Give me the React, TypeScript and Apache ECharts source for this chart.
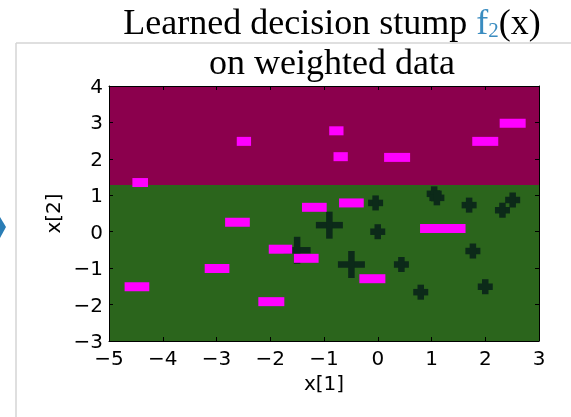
import React, { useEffect, useRef } from "react";
import * as echarts from "echarts";

// axis ranges
const X_MIN = -5;
const X_MAX = 3;
const Y_MIN = -3;
const Y_MAX = 4;

// decision stump threshold on x[2]
const stumpThreshold = 1.28;

// negative points (magenta bars), weight = relative data weight
const pinkX = [-4.42, -2.49, -1.18, -0.77, -0.69, 0.36, 2.0, 2.51, -0.49, -2.61, -1.81, -1.33, -2.99, -4.48, -1.98, 1.21, -0.1];
const pinkY = [1.35, 2.48, 0.67, 2.77, 2.06, 2.04, 2.48, 2.98, 0.79, 0.26, -0.48, -0.73, -1.01, -1.51, -1.92, 0.09, -1.29];
const pinkWeight = [0.6, 0.55, 0.95, 0.55, 0.55, 1.0, 1.0, 1.0, 0.95, 0.95, 0.9, 0.95, 0.95, 0.95, 1.0, 1.75, 1.0];

// positive points (dark crosses)
const crossX = [1.05, 1.1, -0.04, 1.7, 2.32, 2.51, -0.9, 0.0, -0.49, 0.44, 0.8, 1.77, 2.0, -1.5];
const crossY = [1.04, 0.93, 0.79, 0.73, 0.59, 0.87, 0.18, 0.0, -0.9, -0.9, -1.66, -0.53, -1.51, -0.51];
const crossWeight = [1, 1, 1, 1, 1, 1, 1.8, 1, 1.8, 1, 1, 1, 1, 1.8];

const PURPLE = "#8b004d";
const GREEN = "#2b651c";
const PINK = "#ff00ff";
const DARK = "#0c2a19";
const BLUE = "#3a8cc0";

const PINK_UNIT = 26;
const PINK_H = 9;
const CROSS_UNIT = 15;
const CROSS_T = 6.5;

const fmt = (v: number) => String(v).replace("-", "\u2212");

export default function App() {
  const ref = useRef<HTMLDivElement>(null);
  useEffect(() => {
    if (!ref.current) return;
    const chart = echarts.init(ref.current, null, { renderer: "svg" });

    const labelStyle = { fontFamily: "DejaVu Sans", fontSize: 20, color: "#000" };
    const axisCommon = (pos: string, showLabel: boolean) => ({
      type: "value",
      position: pos,
      z: 10,
      interval: 1,
      axisLine: { show: true, onZero: false, lineStyle: { color: "#000", width: 1 } },
      axisTick: { show: true, inside: true, length: 4, lineStyle: { color: "#000", width: 1 } },
      splitLine: { show: false },
      axisLabel: showLabel
        ? { show: true, ...labelStyle, formatter: fmt, showMinLabel: true, showMaxLabel: true }
        : { show: false },
    });

    const bgData = [
      [X_MIN, stumpThreshold, X_MAX, Y_MAX, 0],
      [X_MIN, Y_MIN, X_MAX, stumpThreshold, 1],
    ];
    const bgColors = [PURPLE, GREEN];

    const option: any = {
      animation: false,
      grid: { left: 109, top: 86, width: 430, height: 255, show: false },
      xAxis: [
        {
          ...axisCommon("bottom", true),
          min: X_MIN,
          max: X_MAX,
          axisLabel: { show: true, ...labelStyle, formatter: fmt, margin: 7, showMinLabel: true, showMaxLabel: true },
          name: "x[1]",
          nameLocation: "middle",
          nameGap: 32,
          nameTextStyle: { fontFamily: "DejaVu Sans", fontSize: 20, color: "#000" },
        },
        { ...axisCommon("top", false), min: X_MIN, max: X_MAX },
      ],
      yAxis: [
        {
          ...axisCommon("left", true),
          min: Y_MIN,
          max: Y_MAX,
          axisLabel: { show: true, ...labelStyle, formatter: fmt, margin: 6, showMinLabel: true, showMaxLabel: true },
          name: "x[2]",
          nameLocation: "middle",
          nameGap: 46,
          nameTextStyle: { fontFamily: "DejaVu Sans", fontSize: 20, color: "#000" },
        },
        { ...axisCommon("right", false), min: Y_MIN, max: Y_MAX },
      ],
      series: [
        {
          type: "custom",
          z: 1,
          silent: true,
          data: bgData,
          renderItem: (_p: any, api: any) => {
            const a = api.coord([api.value(0), api.value(3)]);
            const b = api.coord([api.value(2), api.value(1)]);
            return {
              type: "rect",
              shape: { x: a[0], y: a[1], width: b[0] - a[0], height: b[1] - a[1] },
              style: { fill: bgColors[api.value(4)] },
            };
          },
        },
        {
          type: "custom",
          z: 2,
          silent: true,
          data: crossX.map((x, i) => [x, crossY[i], crossWeight[i]]),
          renderItem: (_p: any, api: any) => {
            const c = api.coord([api.value(0), api.value(1)]);
            const L = api.value(2) * CROSS_UNIT;
            return {
              type: "group",
              children: [
                { type: "rect", shape: { x: c[0] - L / 2, y: c[1] - CROSS_T / 2, width: L, height: CROSS_T }, style: { fill: DARK } },
                { type: "rect", shape: { x: c[0] - CROSS_T / 2, y: c[1] - L / 2, width: CROSS_T, height: L }, style: { fill: DARK } },
              ],
            };
          },
        },
        {
          type: "custom",
          z: 3,
          silent: true,
          data: pinkX.map((x, i) => [x, pinkY[i], pinkWeight[i]]),
          renderItem: (_p: any, api: any) => {
            const c = api.coord([api.value(0), api.value(1)]);
            const w = api.value(2) * PINK_UNIT;
            return {
              type: "rect",
              shape: { x: c[0] - w / 2, y: c[1] - PINK_H / 2, width: w, height: PINK_H },
              style: { fill: PINK },
            };
          },
        },
      ],
      graphic: [
        { type: "line", shape: { x1: 16, y1: 43, x2: 571, y2: 43 }, style: { stroke: "#d4d4d4", lineWidth: 1.5 }, z: 0 },
        { type: "line", shape: { x1: 16, y1: 43, x2: 16, y2: 417 }, style: { stroke: "#d4d4d4", lineWidth: 1.5 }, z: 0 },
        { type: "polygon", shape: { points: [[0, 217], [6, 227], [0, 238]] }, style: { fill: "#2a7db5" } },
        {
          type: "text",
          x: 332,
          y: 22,
          style: {
            text: "Learned decision stump {f|f}{s|2}(x)",
            fontFamily: "Liberation Serif",
            fontSize: 36,
            lineHeight: 36,
            fill: "#000",
            textAlign: "center",
            textVerticalAlign: "middle",
            rich: {
              f: { fill: BLUE, fontFamily: "Liberation Serif", fontSize: 36, lineHeight: 36 },
              s: { fill: BLUE, fontFamily: "Liberation Serif", fontSize: 21, lineHeight: 9.5, verticalAlign: "bottom" },
            },
          },
        },
        {
          type: "text",
          x: 332,
          y: 62,
          style: {
            text: "on weighted data",
            fontFamily: "Liberation Serif",
            fontSize: 36,
            fill: "#000",
            textAlign: "center",
            textVerticalAlign: "middle",
          },
        },
      ],
    };
    chart.setOption(option);
    return () => chart.dispose();
  }, []);
  return <div ref={ref} style={{ position: "fixed", left: 0, top: 0, width: 571, height: 417 }} />;
}
